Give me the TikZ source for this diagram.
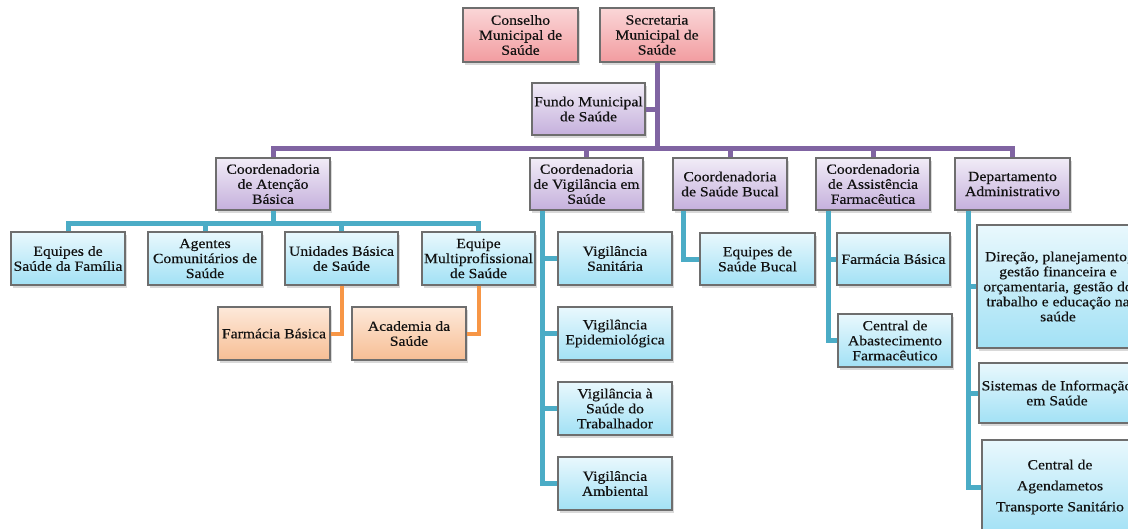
\documentclass[tikz,border=0pt]{standalone}
\usepackage{fontspec}
\setmainfont[FakeStretch=1.12,FakeBold=0.4]{Liberation Serif}
\usetikzlibrary{shadows}
\definecolor{pinkT}{HTML}{FAD6D7}
\definecolor{pinkB}{HTML}{F29CA0}
\definecolor{purpT}{HTML}{F1ECF7}
\definecolor{purpB}{HTML}{C5B0DC}
\definecolor{blueT}{HTML}{E9F8FD}
\definecolor{blueB}{HTML}{A2E1F5}
\definecolor{oranT}{HTML}{FDE9DA}
\definecolor{oranB}{HTML}{F7BE94}
\definecolor{boxborder}{HTML}{6E6E6E}
\definecolor{txt}{HTML}{111111}
\definecolor{purpline}{HTML}{8064A2}
\definecolor{tealline}{HTML}{4BACC6}
\definecolor{oranline}{HTML}{F79646}
\begin{document}
\begin{tikzpicture}[x=1pt,y=-1pt,
  box/.style={draw=boxborder, line width=1.1pt, rectangle, align=center, inner sep=1pt,
    font=\fontsize{14}{15}\selectfont, text=txt,
    drop shadow={shadow xshift=2pt, shadow yshift=-2.5pt, opacity=0.3}},
  sz/.style 2 args={minimum width=#1pt, minimum height=#2pt},
  pinkbox/.style={box, top color=pinkT, bottom color=pinkB},
  purpbox/.style={box, top color=purpT, bottom color=purpB},
  bluebox/.style={box, top color=blueT, bottom color=blueB},
  oranbox/.style={box, top color=oranT, bottom color=oranB},
  pline/.style={draw=purpline, line width=5pt, line join=miter},
  tline/.style={draw=tealline, line width=5pt, line join=miter},
  oline/.style={draw=oranline, line width=4pt, line join=miter}]
\useasboundingbox (0,0) rectangle (1128,528);
\clip (0,0) rectangle (1128,528);
% coordinates of buses
\coordinate (busP) at (0,148);
\coordinate (busA) at (0,223);
\coordinate (vx) at (542,0);
\coordinate (bx) at (683,0);
\coordinate (fx) at (828,0);
\coordinate (dx) at (968,0);
% top level
\node[pinkbox, sz={115}{54}] (csm) at (520.5,35) {Conselho\\Municipal de\\Saúde};
\node[pinkbox, sz={114}{54}] (sec) at (657,35) {Secretaria\\Municipal de\\Saúde};
\node[purpbox, sz={113}{52}] (fun) at (588.5,109) {Fundo Municipal\\de Saúde};
% coordinators
\node[purpbox, sz={114}{52}] (cab) at (273,184) {Coordenadoria\\de Atenção\\Básica};
\node[purpbox, sz={113}{52}] (cvs) at (586.5,184) {Coordenadoria\\de Vigilância em\\Saúde};
\node[purpbox, sz={114}{52}] (cbu) at (730,184) {Coordenadoria\\de Saúde Bucal};
\node[purpbox, sz={114}{52}] (caf) at (873,184) {Coordenadoria\\de Assistência\\Farmacêutica};
\node[purpbox, sz={115}{52}] (dep) at (1012.5,184) {Departamento\\Administrativo};
% atencao basica
\node[bluebox, sz={114}{53}] (esf) at (68,258.5) {Equipes de\\Saúde da Família};
\node[bluebox, sz={114}{53}] (acs) at (205,258.5) {Agentes\\Comunitários de\\Saúde};
\node[bluebox, sz={113}{53}] (ubs) at (341.5,258.5) {Unidades Básica\\de Saúde};
\node[bluebox, sz={113}{53}] (emu) at (478.5,258.5) {Equipe\\Multiprofissional\\de Saúde};
\node[oranbox, sz={112}{53}] (fbo) at (274,333.5) {Farmácia Básica};
\node[oranbox, sz={114}{53}] (aca) at (409,333.5) {Academia da\\Saúde};
% vigilancia
\node[bluebox, sz={114}{53}] (vsa) at (615,258.5) {Vigilância\\Sanitária};
\node[bluebox, sz={114}{53}] (vep) at (615,333.5) {Vigilância\\Epidemiológica};
\node[bluebox, sz={114}{53}] (vtr) at (615,408.5) {Vigilância à\\Saúde do\\Trabalhador};
\node[bluebox, sz={114}{53}] (vam) at (615,483.5) {Vigilância\\Ambiental};
% bucal
\node[bluebox, sz={115}{52}] (esb) at (757.5,259) {Equipes de\\Saúde Bucal};
% farmaceutica
\node[bluebox, sz={113}{52}] (ffb) at (893.5,259) {Farmácia Básica};
\node[bluebox, sz={114}{53}] (cea) at (895,340.5) {Central de\\Abastecimento\\Farmacêutico};
% departamento
\node[bluebox, sz={162}{123}] (dir) at (1058,286.5) {Direção, planejamento,\\gestão financeira e\\orçamentaria, gestão do\\trabalho e educação na\\saúde};
\node[bluebox, sz={156}{60}] (sis) at (1057,393) {Sistemas de Informação\\em Saúde};
\node[bluebox, sz={156}{94}, font=\fontsize{14}{21}\selectfont] (cag) at (1060,487) {Central de\\Agendametos\\Transporte Sanitário};
% purple connectors
\draw[pline] (sec.south) -- (sec.south |- busP);
\draw[pline] (fun.east) -- (fun.east -| sec.south);
\draw[pline] (cab.north) -- (cab.north |- busP) -- (dep.north |- busP) -- (dep.north);
\draw[pline] (cvs.north) -- (cvs.north |- busP);
\draw[pline] (cbu.north) -- (cbu.north |- busP);
\draw[pline] (caf.north) -- (caf.north |- busP);
% teal: atencao basica
\draw[tline] (cab.south) -- (cab.south |- busA);
\draw[tline] (esf.north) -- (esf.north |- busA) -- (emu.north |- busA) -- (emu.north);
\draw[tline] (acs.north) -- (acs.north |- busA);
\draw[tline] (ubs.north) -- (ubs.north |- busA);
% orange
\draw[oline] (ubs.south) |- (fbo.east);
\draw[oline] (emu.south) |- (aca.east);
% teal: vigilancia
\draw[tline] (vx |- cvs.south) -- (vx |- vam.west) -- (vam.west);
\draw[tline] (vx |- vsa.west) -- (vsa.west);
\draw[tline] (vx |- vep.west) -- (vep.west);
\draw[tline] (vx |- vtr.west) -- (vtr.west);
% teal: bucal
\draw[tline] (bx |- cbu.south) -- (bx |- esb.west) -- (esb.west);
% teal: farmaceutica
\draw[tline] (fx |- caf.south) -- (fx |- cea.west) -- (cea.west);
\draw[tline] (fx |- ffb.west) -- (ffb.west);
% teal: departamento
\draw[tline] (dx |- dep.south) -- (dx |- cag.west) -- (cag.west);
\draw[tline] (dx |- dir.west) -- (dir.west);
\draw[tline] (dx |- sis.west) -- (sis.west);
\end{tikzpicture}
\end{document}
